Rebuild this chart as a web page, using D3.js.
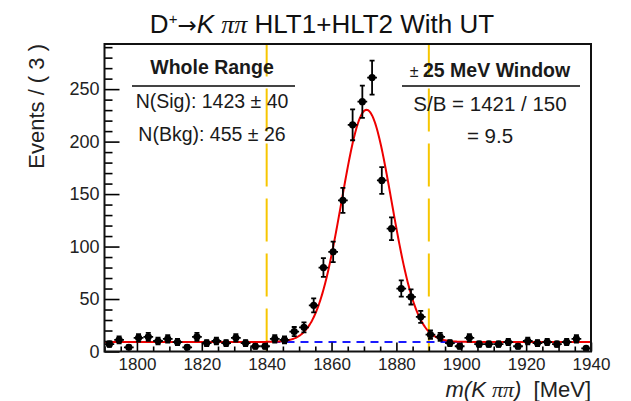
<!DOCTYPE html>
<html>
<head>
<meta charset="utf-8">
<script src="https://cdn.jsdelivr.net/npm/d3@7/dist/d3.min.js"></script>
<style>
  html, body { margin: 0; padding: 0; background: #fff; }
  svg { display: block; font-family: "Liberation Sans", Arial, Helvetica, sans-serif; }
</style>
</head>
<body>
<svg id="chart" width="631" height="401"></svg>
<script>
// Histogram: D+ -> K pi pi invariant mass, 3 MeV bins from 1790 to 1940 MeV
const binEdgesMeV = d3.range(1790, 1940, 3);
const binWidth = 3;
const counts = [
  7, 11, 4, 13, 14, 10, 12, 9, 4, 14,
  8, 10, 8, 13, 8, 5, 5, 12, 11, 19,
  23, 44, 80, 95, 144, 216, 238, 261, 163, 117,
  60, 52, 33, 16, 14, 8, 5, 13, 7, 7,
  7, 9, 5, 10, 8, 9, 7, 9, 12, 3
];

// Fit result: Gaussian signal + flat background
const fitSignal = [1423, 40];      // yield, error
const fitBackground = [455, 26];   // yield, error
const fitShape = [1870.8, 7.7];    // mean, sigma (MeV)
const windowEdges = [1840, 1890];  // +-25 MeV window
const windowSB = [1421, 150];

const xTicks = [1800, 1820, 1840, 1860, 1880, 1900, 1920, 1940];
const yTicks = [0, 50, 100, 150, 200, 250];
const xDomain = [1790, 1940];
const yDomain = [0, 293];

const svg = d3.select("#chart");
const frame = { left: 104.5, right: 591, top: 44, bottom: 351.5 };

const x = d3.scaleLinear().domain(xDomain).range([frame.left, frame.right]);
const y = d3.scaleLinear().domain(yDomain).range([frame.bottom, frame.top]);

svg.append("defs").append("clipPath").attr("id", "plotClip")
  .append("rect")
  .attr("x", frame.left).attr("y", frame.top)
  .attr("width", frame.right - frame.left).attr("height", frame.bottom - frame.top);

// Title
const title = svg.append("text")
  .attr("x", 322).attr("y", 33)
  .attr("text-anchor", "middle")
  .attr("font-size", 26)
  .attr("fill", "#111");
title.append("tspan").text("D");
title.append("tspan").attr("font-size", 15).attr("dy", -9).text("+");
title.append("tspan").attr("dy", 9).attr("font-family", "DejaVu Sans, sans-serif").attr("font-size", 23).text("\u2192");
title.append("tspan").attr("font-style", "italic").text("K ");
title.append("tspan").attr("font-style", "italic").attr("font-family", "Liberation Serif, serif").text("\u03c0\u03c0");
title.append("tspan").text(" HLT1+HLT2 With UT");

// Window lines
const windowLayer = svg.append("g").attr("clip-path", "url(#plotClip)");
windowEdges.forEach(m => {
  windowLayer.append("line")
    .attr("x1", x(m)).attr("x2", x(m))
    .attr("y1", frame.bottom).attr("y2", frame.top)
    .attr("stroke", "#f7c600")
    .attr("stroke-width", 2)
    .attr("stroke-dasharray", "43,12");
});

// Legend blocks
function legendBlock(cx, header, rule, rows) {
  const g = svg.append("g").attr("fill", "#1a1a1a");
  const h = g.append("text").attr("x", cx).attr("y", header.y).attr("text-anchor", "middle")
    .attr("font-weight", "bold").attr("font-size", 19.5).attr("xml:space", "preserve");
  header.parts.forEach(p => {
    const t = h.append("tspan").text(p.text);
    if (p.normal) t.attr("font-weight", "normal").attr("font-size", 16);
  });
  g.append("line")
    .attr("x1", rule.x1).attr("x2", rule.x2)
    .attr("y1", rule.y).attr("y2", rule.y)
    .attr("stroke", "#444").attr("stroke-width", 2);
  rows.forEach(r => {
    g.append("text").attr("x", cx).attr("y", r.y).attr("text-anchor", "middle")
      .attr("font-size", r.size).text(r.text);
  });
}

legendBlock(212,
  { y: 74, parts: [{ text: "Whole Range" }] },
  { x1: 132, x2: 295, y: 86 },
  [
    { y: 108, size: 19.5, text: `N(Sig): ${fitSignal[0]} \u00b1 ${fitSignal[1]}` },
    { y: 141, size: 19.5, text: `N(Bkg): ${fitBackground[0]} \u00b1 ${fitBackground[1]}` }
  ]);

legendBlock(490,
  { y: 77, parts: [{ text: "\u00b1 ", normal: true }, { text: `${(windowEdges[1] - windowEdges[0]) / 2} MeV Window` }] },
  { x1: 402, x2: 580, y: 86 },
  [
    { y: 111, size: 20.5, text: `S/B = ${windowSB[0]} / ${windowSB[1]}` },
    { y: 143, size: 20.5, text: `= ${(windowSB[0] / windowSB[1]).toFixed(1)}` }
  ]);

// Fit curves
const bkgPerBin = fitBackground[0] * binWidth / (xDomain[1] - xDomain[0]);
function sigPerBin(m) {
  const [mu, s] = fitShape;
  return fitSignal[0] * binWidth / (s * Math.sqrt(2 * Math.PI)) * Math.exp(-0.5 * ((m - mu) / s) ** 2);
}
const curveX = d3.range(xDomain[0], xDomain[1] + 0.01, 0.25);
const curveLayer = svg.append("g").attr("clip-path", "url(#plotClip)");
const lineGen = d3.line().x(d => x(d[0])).y(d => y(d[1]));

curveLayer.append("path")
  .datum(curveX.map(m => [m, bkgPerBin]))
  .attr("d", lineGen)
  .attr("fill", "none")
  .attr("stroke", "#1a1aff")
  .attr("stroke-width", 2)
  .attr("stroke-dasharray", "8,6");

// Data points with Poisson errors
const pts = svg.append("g").attr("clip-path", "url(#plotClip)");
counts.forEach((n, i) => {
  const c = binEdgesMeV[i] + binWidth / 2;
  const err = Math.sqrt(n);
  const g = pts.append("g").attr("stroke", "#000").attr("stroke-width", 1.8);
  g.append("line")
    .attr("x1", x(c - binWidth / 2)).attr("x2", x(c + binWidth / 2))
    .attr("y1", y(n)).attr("y2", y(n));
  g.append("line")
    .attr("x1", x(c)).attr("x2", x(c))
    .attr("y1", y(n - err)).attr("y2", y(n + err));
  [n - err, n + err].forEach(v => {
    g.append("line")
      .attr("x1", x(c) - 2.5).attr("x2", x(c) + 2.5)
      .attr("y1", y(v)).attr("y2", y(v));
  });
  pts.append("circle")
    .attr("cx", x(c)).attr("cy", y(n)).attr("r", 3.6)
    .attr("fill", "#000");
});

curveLayer.append("path")
  .datum(curveX.map(m => [m, bkgPerBin + sigPerBin(m)]))
  .attr("d", lineGen)
  .attr("fill", "none")
  .attr("stroke", "#ee0000")
  .attr("stroke-width", 2);

// Axes
const xAxis = d3.axisBottom(x).tickValues(xTicks).tickSize(9).tickSizeOuter(0).tickFormat(d3.format("d"));
const xMinor = d3.axisBottom(x).tickValues(d3.range(1790, 1941, 5).filter(v => v % 20 !== 0)).tickSize(5).tickSizeOuter(0).tickFormat("");
const yAxis = d3.axisRight(y).tickValues(yTicks).tickSize(15).tickSizeOuter(0).tickFormat("");
const yMinor = d3.axisRight(y).tickValues(d3.range(0, 291, 10).filter(v => v % 50 !== 0)).tickSize(8).tickSizeOuter(0).tickFormat("");

function styleAxis(g) {
  g.select(".domain").remove();
  g.selectAll(".tick line").attr("stroke", "#000").attr("stroke-width", 1.6);
}

// ticks point inward from the frame
svg.append("g").attr("transform", `translate(0,${frame.bottom})`).call(xAxis).call(styleAxis)
  .call(g => g.selectAll(".tick line").attr("y2", -9))
  .call(g => g.selectAll(".tick text").attr("y", 6.5).attr("font-size", 17)
    .attr("fill", "#222").attr("font-family", "Liberation Sans, Arial, sans-serif"));
svg.append("g").attr("transform", `translate(0,${frame.bottom})`).call(xMinor).call(styleAxis)
  .call(g => g.selectAll(".tick line").attr("y2", -5));
svg.append("g").attr("transform", `translate(${frame.left},0)`).call(yAxis).call(styleAxis);
svg.append("g").attr("transform", `translate(${frame.left},0)`).call(yMinor).call(styleAxis);

// Y tick labels
svg.append("g").selectAll("text").data(yTicks).join("text")
  .attr("x", frame.left - 5).attr("y", d => y(d) + 6)
  .attr("text-anchor", "end")
  .attr("font-size", 18)
  .attr("fill", "#222")
  .text(d => d);

// Frame
svg.append("rect")
  .attr("x", frame.left).attr("y", frame.top)
  .attr("width", frame.right - frame.left).attr("height", frame.bottom - frame.top)
  .attr("fill", "none").attr("stroke", "#111").attr("stroke-width", 2);

// Axis titles
const xt = svg.append("text")
  .attr("x", frame.right).attr("y", 397)
  .attr("text-anchor", "end")
  .attr("font-size", 22)
  .attr("fill", "#222")
  .attr("xml:space", "preserve");
xt.append("tspan").attr("font-style", "italic").text("m(K ");
xt.append("tspan").attr("font-style", "italic").attr("font-family", "Liberation Serif, serif").text("\u03c0\u03c0");
xt.append("tspan").attr("font-style", "italic").text(")");
xt.append("tspan").text("  [MeV]");

svg.append("text")
  .attr("transform", `translate(44,${frame.top}) rotate(-90)`)
  .attr("text-anchor", "end")
  .attr("font-size", 22)
  .attr("fill", "#222")
  .text("Events / ( 3 )");
</script>
</body>
</html>
